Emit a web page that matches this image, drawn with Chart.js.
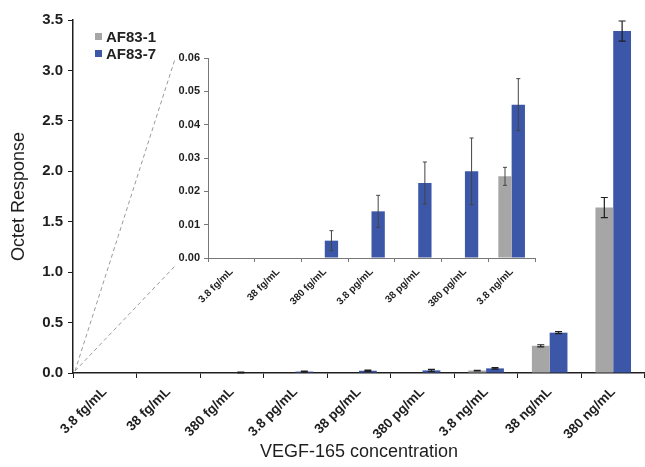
<!DOCTYPE html>
<html>
<head>
<meta charset="utf-8">
<script src="https://cdn.jsdelivr.net/npm/chart.js@4"></script>
<style>
  body { margin: 0; background: #fff; font-family: "Liberation Sans", Arial, sans-serif; }
  #wrap { position: relative; width: 645px; height: 467px; }
  #main { position: absolute; left: 0; top: 0; }
  #inset { position: absolute; left: 150px; top: 40px; }
  #legend { position: absolute; left: 95px; top: 28px; font-weight: bold; font-size: 15px; color: #222; }
  #legend div { height: 17px; line-height: 17px; display: flex; align-items: center; }
  #legend span.sw { width: 7px; height: 7px; margin-right: 4px; display: inline-block; }
</style>
</head>
<body>
<div id="wrap">
  <canvas id="main" width="645" height="467"></canvas>
  <canvas id="inset" width="395" height="275"></canvas>
  <div id="legend"></div>
</div>
<script>
const categories = ['3.8 fg/mL', '38 fg/mL', '380 fg/mL', '3.8 pg/mL', '38 pg/mL', '380 pg/mL', '3.8 ng/mL', '38 ng/mL', '380 ng/mL'];
const af831 = [0, 0, 0, 0, 0, 0, 0.0245, 0.27, 1.64];
const af831Err = [0, 0, 0, 0, 0, 0, 0.0027, 0.01, 0.1];
const af837 = [0, 0, 0.0052, 0.014, 0.0225, 0.026, 0.046, 0.40, 3.39];
const af837Err = [0, 0, 0.003, 0.0048, 0.0063, 0.01, 0.0078, 0.01, 0.1];
const insetCount = 7; // inset zooms into the first 7 concentrations

const grey = '#a6a6a6';
const blue = '#3c57a8';
const ink = '#1e1e1e';
const family = '"Liberation Sans", Arial, sans-serif';

// error bars drawn through the y scale
const errorBars = {
  id: 'errorBars',
  afterDatasetsDraw(chart, args, opts) {
    const ctx = chart.ctx;
    const y = chart.scales.y;
    chart.data.datasets.forEach((ds, i) => {
      chart.getDatasetMeta(i).data.forEach((bar, j) => {
        const e = ds.errors[j];
        if (!e) return;
        const v = ds.data[j];
        const top = y.getPixelForValue(v + e);
        const bot = y.getPixelForValue(Math.max(0, v - e));
        ctx.save();
        ctx.strokeStyle = opts.color;
        ctx.lineWidth = opts.width;
        ctx.beginPath();
        ctx.moveTo(bar.x, top); ctx.lineTo(bar.x, bot);
        ctx.moveTo(bar.x - opts.cap, top); ctx.lineTo(bar.x + opts.cap, top);
        ctx.moveTo(bar.x - opts.cap, bot); ctx.lineTo(bar.x + opts.cap, bot);
        ctx.stroke();
        ctx.restore();
      });
    });
  }
};

// dashed lines from the main origin to the inset
const zoomLines = {
  id: 'zoomLines',
  afterDraw(chart) {
    const { ctx, scales: { x, y } } = chart;
    const ox = x.left + 2, oy = y.getPixelForValue(0) - 2;
    ctx.save();
    ctx.setLineDash([4, 3]);
    ctx.strokeStyle = '#9a9a9a';
    ctx.lineWidth = 1;
    ctx.beginPath();
    ctx.moveTo(ox, oy); ctx.lineTo(175, 59);
    ctx.moveTo(ox, oy); ctx.lineTo(175, 266);
    ctx.stroke();
    ctx.restore();
  }
};

function datasets(n) {
  return [
    { label: 'AF83-1', data: af831.slice(0, n), errors: af831Err.slice(0, n), backgroundColor: grey },
    { label: 'AF83-7', data: af837.slice(0, n), errors: af837Err.slice(0, n), backgroundColor: blue }
  ];
}

new Chart(document.getElementById('main'), {
  type: 'bar',
  data: { labels: categories, datasets: datasets(categories.length) },
  options: {
    responsive: false,
    animation: false,
    layout: { padding: { top: 20, right: 0, left: 0, bottom: 0 } },
    datasets: { bar: { categoryPercentage: 0.56, barPercentage: 1 } },
    plugins: {
      legend: { display: false },
      tooltip: { enabled: false },
      errorBars: { color: ink, width: 1.2, cap: 3.5 }
    },
    scales: {
      x: {
        grid: { drawOnChartArea: false, tickLength: 5, color: ink },
        border: { color: ink, width: 1.5 },
        ticks: { minRotation: 45, maxRotation: 45, color: ink, padding: 6, font: { family, size: 13.5, weight: 'bold' } },
        title: { display: true, text: 'VEGF-165 concentration', color: ink, font: { family, size: 18 }, padding: { top: 0, bottom: 4 } },
        afterFit(s) { s.height = 94; }
      },
      y: {
        min: 0, max: 3.5,
        grid: { drawOnChartArea: false, tickLength: 5, color: ink },
        border: { color: ink, width: 1.5 },
        ticks: { stepSize: 0.5, color: ink, padding: 5, font: { family, size: 15, weight: 'bold' }, callback: v => v.toFixed(1) },
        title: { display: true, text: 'Octet Response', color: ink, font: { family, size: 18 }, padding: { top: 8, bottom: 0 } },
        afterFit(s) { s.width = 73; }
      }
    }
  },
  plugins: [errorBars, zoomLines]
});

new Chart(document.getElementById('inset'), {
  type: 'bar',
  data: { labels: categories.slice(0, insetCount), datasets: datasets(insetCount) },
  options: {
    responsive: false,
    animation: false,
    layout: { padding: { top: 18, right: 10, left: 0, bottom: 0 } },
    datasets: { bar: { categoryPercentage: 0.57, barPercentage: 1 } },
    plugins: {
      legend: { display: false },
      tooltip: { enabled: false },
      errorBars: { color: '#444', width: 1, cap: 2 }
    },
    scales: {
      x: {
        grid: { drawOnChartArea: false, tickLength: 4, color: '#777' },
        border: { color: '#777', width: 1 },
        ticks: { minRotation: 45, maxRotation: 45, color: ink, padding: 4, font: { family, size: 10, weight: 'bold' } },
        afterFit(s) { s.height = 57; }
      },
      y: {
        min: 0, max: 0.06,
        grid: { drawOnChartArea: false, tickLength: 4, color: '#777' },
        border: { color: '#777', width: 1 },
        ticks: { stepSize: 0.01, color: ink, padding: 4, font: { family, size: 11, weight: 'bold' }, callback: v => v.toFixed(2) },
        afterFit(s) { s.width = 58; }
      }
    }
  },
  plugins: [errorBars]
});

// legend as plain text
const legend = document.getElementById('legend');
[['AF83-1', grey], ['AF83-7', blue]].forEach(([name, color]) => {
  const row = document.createElement('div');
  row.innerHTML = '<span class="sw" style="background:' + color + '"></span>' + name;
  legend.appendChild(row);
});
</script>
</body>
</html>
